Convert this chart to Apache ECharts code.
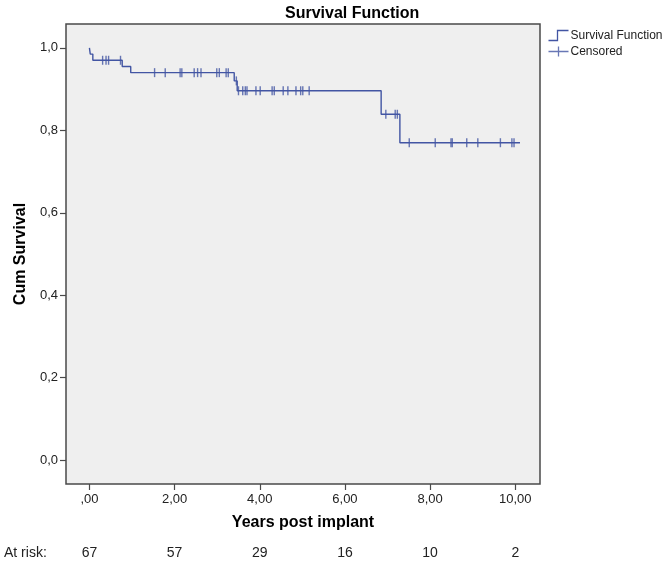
<!DOCTYPE html>
<html>
<head>
<meta charset="utf-8">
<script src="https://cdn.jsdelivr.net/npm/echarts@6/dist/echarts.min.js"></script>
<style>html,body{margin:0;padding:0;background:#fff;}#c{width:666px;height:565px;}</style>
</head>
<body>
<div id="c"></div>
<script>
// Kaplan-Meier step curve: time points and survival levels
var stepTimes    = [0, 0.02, 0.08, 0.77, 0.97, 3.40, 3.47, 6.85, 7.29, 10.11];
var stepSurvival = [1.0, 0.985, 0.970, 0.955, 0.940, 0.920, 0.896, 0.839, 0.770, 0.770];
// Censored observations: times and the survival level at that time
var censorTimes = [0.31, 0.39, 0.45, 0.73,
  1.53, 1.78, 2.13, 2.17, 2.46, 2.54, 2.62, 2.99, 3.05, 3.21, 3.26,
  3.45,
  3.50, 3.60, 3.66, 3.70, 3.91, 4.01, 4.29, 4.34, 4.55, 4.66, 4.85, 4.96, 5.01, 5.16,
  6.96, 7.18, 7.23,
  7.51, 8.12, 8.49, 8.52, 8.86, 9.12, 9.65, 9.92, 9.97];
var censorSurvival = [0.970, 0.970, 0.970, 0.970,
  0.940, 0.940, 0.940, 0.940, 0.940, 0.940, 0.940, 0.940, 0.940, 0.940, 0.940,
  0.920,
  0.896, 0.896, 0.896, 0.896, 0.896, 0.896, 0.896, 0.896, 0.896, 0.896, 0.896, 0.896, 0.896, 0.896,
  0.839, 0.839, 0.839,
  0.770, 0.770, 0.770, 0.770, 0.770, 0.770, 0.770, 0.770, 0.770, 0.770];
var xTickValues = [0, 2, 4, 6, 8, 10];
var xTickLabels = [',00', '2,00', '4,00', '6,00', '8,00', '10,00'];
var yTickValues = [0, 0.2, 0.4, 0.6, 0.8, 1.0];
var yTickLabels = ['0,0', '0,2', '0,4', '0,6', '0,8', '1,0'];
var atRisk = [67, 57, 29, 16, 10, 2];

var lineColor = '#4255a3';
var stepData = stepTimes.map(function (t, i) { return [t, stepSurvival[i]]; });
var censorData = censorTimes.map(function (t, i) { return [t, censorSurvival[i]]; });
function lookup(vals, labels, v) {
  for (var i = 0; i < vals.length; i++) { if (Math.abs(vals[i] - v) < 1e-6) return labels[i]; }
  return '';
}
var font = 'Liberation Sans, Arial, sans-serif';
var chart = echarts.init(document.getElementById('c'), null, { renderer: 'canvas' });
chart.setOption({
  animation: false,
  backgroundColor: '#ffffff',
  title: {
    text: 'Survival Function', left: 280, top: 1,
    textStyle: { fontFamily: font, fontSize: 16, fontWeight: 'bold', color: '#000' }
  },
  legend: {
    orient: 'vertical', left: 541, top: 23, itemGap: 1, itemWidth: 20, itemHeight: 10,
    textStyle: { fontFamily: font, fontSize: 12, color: '#222', padding: [0, 0, 0, -3] },
    data: [
      { name: 'Survival Function', icon: 'path://M0,10 L9,10 L9,0 L20,0',
        itemStyle: { color: 'none', borderColor: lineColor, borderWidth: 1.3 } },
      { name: 'Censored', icon: 'path://M0,5 L20,5 M10,0 L10,10',
        itemStyle: { color: 'none', borderColor: lineColor, borderWidth: 1.3 } }
    ]
  },
  grid: {
    left: 66, right: 126, top: 24, bottom: 81, show: true,
    backgroundColor: '#efefef', borderColor: '#4a4a4a', borderWidth: 1.5
  },
  xAxis: [{
    type: 'value', min: -0.55, max: 10.58,
    name: 'Years post implant', nameLocation: 'middle', nameGap: 31,
    nameTextStyle: { fontFamily: font, fontSize: 16, fontWeight: 'bold', color: '#000' },
    axisLine: { show: false, onZero: false },
    axisTick: { show: true, length: 6, inside: false, customValues: xTickValues,
      lineStyle: { color: '#4a4a4a', width: 1.2 } },
    axisLabel: { customValues: xTickValues, margin: 9, fontFamily: font, fontSize: 13, color: '#222',
      formatter: function (v) { return lookup(xTickValues, xTickLabels, v); } },
    splitLine: { show: false }
  }, {
    type: 'value', min: -0.55, max: 10.58, position: 'bottom', offset: 62,
    axisLine: { show: false, onZero: false }, axisTick: { show: false }, splitLine: { show: false },
    axisLabel: { customValues: xTickValues, margin: 0, fontFamily: font, fontSize: 14, color: '#222',
      formatter: function (v) { var i = xTickValues.indexOf(Math.round(v)); return i >= 0 ? String(atRisk[i]) : ''; } }
  }],
  yAxis: {
    type: 'value', min: -0.058, max: 1.058,
    name: 'Cum Survival', nameLocation: 'middle', nameGap: 37,
    nameTextStyle: { fontFamily: font, fontSize: 16, fontWeight: 'bold', color: '#000' },
    axisLine: { show: false, onZero: false },
    axisTick: { show: true, length: 6, inside: false, customValues: yTickValues,
      lineStyle: { color: '#4a4a4a', width: 1.2 } },
    axisLabel: { customValues: yTickValues, margin: 8, fontFamily: font, fontSize: 13, color: '#222',
      formatter: function (v) { return lookup(yTickValues, yTickLabels, v); } },
    splitLine: { show: false }
  },
  graphic: [{
    type: 'text', left: 4, top: 546,
    style: { text: 'At risk:', fontFamily: font, fontSize: 14, fill: '#222' }
  }],
  series: [{
    name: 'Survival Function', type: 'line', step: 'end', data: stepData,
    xAxisIndex: 0, showSymbol: false, symbol: 'none',
    lineStyle: { color: lineColor, width: 1.4 }, itemStyle: { color: lineColor }
  }, {
    name: 'Censored', type: 'scatter', data: censorData, xAxisIndex: 0,
    symbol: 'rect', symbolSize: [1.4, 9],
    itemStyle: { color: lineColor }
  }]
});
</script>
</body>
</html>
